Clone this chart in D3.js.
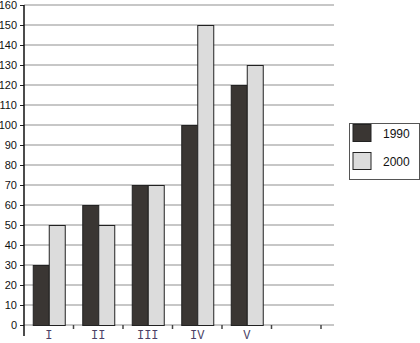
<!DOCTYPE html>
<html>
<head>
<meta charset="utf-8">
<script src="https://cdn.jsdelivr.net/npm/d3@7"></script>
<style>
  body { margin: 0; background: #fff; }
  svg { display: block; }
</style>
</head>
<body>
<div id="chart"></div>
<script>
var categories = ["I", "II", "III", "IV", "V", ""];
var series = ["1990", "2000"];
var values1990 = [30, 60, 70, 100, 120, null];
var values2000 = [50, 50, 70, 150, 130, null];
var yTicks = [0, 10, 20, 30, 40, 50, 60, 70, 80, 90, 100, 110, 120, 130, 140, 150, 160];

var colors = { "1990": "#3a3633", "2000": "#dcdcdc" };

var svgWidth = 420, svgHeight = 343;
var margin = { top: 5, left: 24, bottom: 18 };
var plotRight = 321;
var gridRight = 334;

var svg = d3.select("#chart").append("svg")
    .attr("width", svgWidth)
    .attr("height", svgHeight);

var x = d3.scaleBand()
    .domain(categories)
    .range([margin.left, plotRight]);

var xInner = d3.scaleBand()
    .domain(series)
    .range([0, 32]);

var y = d3.scaleLinear()
    .domain([0, 160])
    .range([325, margin.top]);

// gridlines
svg.append("g")
    .selectAll("line")
    .data(yTicks)
    .enter()
    .append("line")
    .attr("x1", margin.left)
    .attr("x2", gridRight)
    .attr("y1", d => y(d))
    .attr("y2", d => y(d))
    .attr("stroke", "#b4b4b4")
    .attr("stroke-width", 1.5);

// bars
var rows = categories.map(function (c, i) {
    return { cat: c, vals: [{ s: "1990", v: values1990[i] }, { s: "2000", v: values2000[i] }] };
});

var groups = svg.append("g")
    .selectAll("g")
    .data(rows)
    .enter()
    .append("g")
    .attr("transform", d => `translate(${x(d.cat) + (x.bandwidth() - 32) / 2}, 0)`);

groups.selectAll("rect")
    .data(d => d.vals.filter(v => v.v != null))
    .enter()
    .append("rect")
    .attr("x", d => xInner(d.s) + 0.5)
    .attr("y", d => y(d.v) + 0.5)
    .attr("width", xInner.bandwidth())
    .attr("height", d => y(0) - y(d.v))
    .attr("fill", d => colors[d.s])
    .attr("stroke", "#222")
    .attr("stroke-width", 1);

// y axis
var leftAxis = d3.axisLeft(y)
    .tickValues(yTicks)
    .tickSize(4)
    .tickPadding(3);

var yAxis = svg.append("g")
    .attr("transform", `translate(${margin.left}, 0)`)
    .call(leftAxis);
yAxis.select(".domain").remove();
yAxis.selectAll("line").attr("stroke", "#222");
yAxis.selectAll("text")
    .attr("font-family", "Liberation Sans, Arial, sans-serif")
    .attr("font-size", "11px")
    .attr("fill", "#111");

svg.append("line")
    .attr("x1", margin.left)
    .attr("x2", margin.left)
    .attr("y1", y(160))
    .attr("y2", 336)
    .attr("stroke", "#111")
    .attr("stroke-width", 1.5);

// x axis
var bottomAxis = d3.axisBottom(x)
    .tickSize(0)
    .tickPadding(5);

var xAxis = svg.append("g")
    .attr("transform", `translate(0, ${y(0)})`)
    .call(bottomAxis);
xAxis.select(".domain").remove();
xAxis.selectAll("text")
    .attr("font-family", "Liberation Mono, Courier New, monospace")
    .attr("font-size", "12px")
    .attr("fill", "#4b3f66");

var tickPos = categories.map(c => x(c)).concat([plotRight]);
svg.append("g")
    .selectAll("line")
    .data(tickPos.slice(1))
    .enter()
    .append("line")
    .attr("x1", d => d)
    .attr("x2", d => d)
    .attr("y1", y(0))
    .attr("y2", y(0) + 4)
    .attr("stroke", "#444")
    .attr("stroke-width", 1.5);

// legend
var legend = svg.append("g")
    .attr("transform", "translate(349, 123)");

legend.append("rect")
    .attr("x", 0.5)
    .attr("y", 0.5)
    .attr("width", 70)
    .attr("height", 56)
    .attr("fill", "#fff")
    .attr("stroke", "#555");

var legendItems = legend.selectAll("g")
    .data(series)
    .enter()
    .append("g")
    .attr("transform", (d, i) => `translate(4, ${1.5 + i * 28})`);

legendItems.append("rect")
    .attr("width", 18)
    .attr("height", 17)
    .attr("fill", d => colors[d])
    .attr("stroke", "#222");

legendItems.append("text")
    .attr("x", 30)
    .attr("y", 13)
    .attr("font-family", "Liberation Sans, Arial, sans-serif")
    .attr("font-size", "12px")
    .attr("fill", "#111")
    .text(d => d);
</script>
</body>
</html>
